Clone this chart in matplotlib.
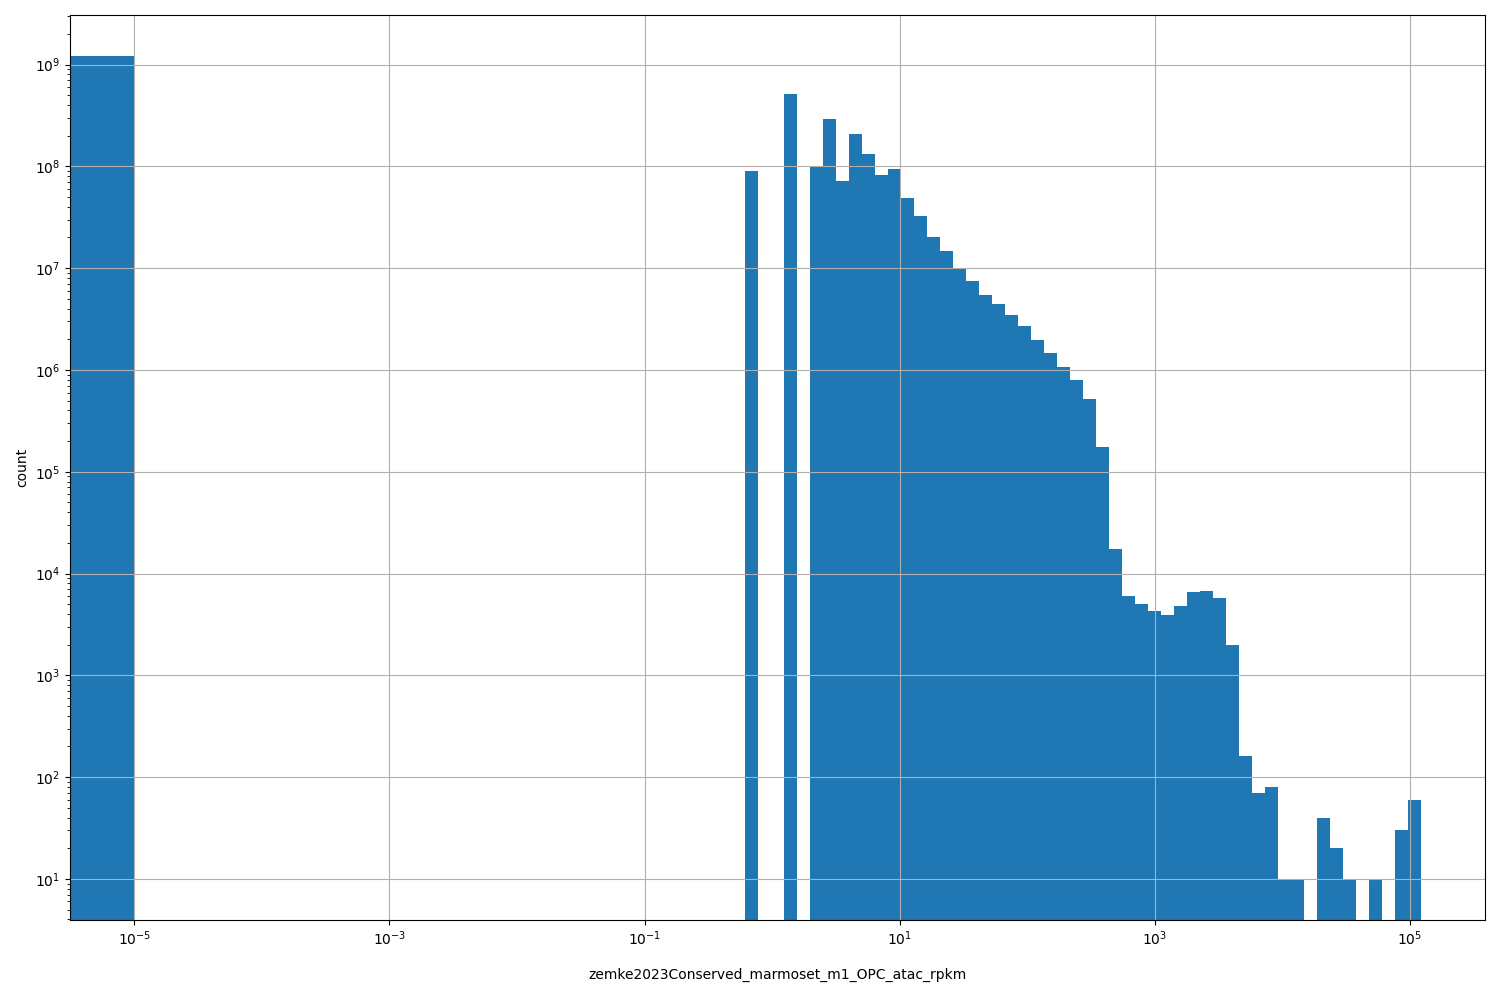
import numpy as np
import matplotlib
matplotlib.use("Agg")
import matplotlib.pyplot as plt
from matplotlib.ticker import NullLocator

# histogram of rpkm values, log-spaced bins plus one bin for zeros
col = "zemke2023Conserved_marmoset_m1_OPC_atac_rpkm"

log_lo = -5.0      # first log bin edge (10^-5)
log_hi = 5.084     # last bin edge (max value)
n_edges = 100

zero_count = 1.21e9          # bin [0, 1e-5]
n_empty_low = 47             # empty log bins between 1e-5 and ~0.61
counts_hi = [
    9.1e7, 0, 0, 5.1e8, 0, 9.8e7, 2.9e8, 7.1e7, 2.1e8, 1.31e8,
    8.3e7, 9.5e7, 4.84e7, 3.22e7, 2.0e7, 1.46e7, 1.0e7, 7.4e6, 5.5e6, 4.48e6,
    3.5e6, 2.72e6, 1.98e6, 1.48e6, 1.07e6, 8.0e5, 5.2e5, 1.75e5, 1.73e4, 5980,
    5000, 4270, 3900, 4780, 6560, 6700, 5700, 1980, 160, 70,
    80, 10, 10, 0, 40, 20, 10, 0, 10, 0,
    30, 60,
]
xticks = [1e-5, 1e-3, 1e-1, 1e1, 1e3, 1e5]

edges = np.concatenate([[0.0], np.logspace(log_lo, log_hi, n_edges)])
counts = np.array([zero_count] + [0] * n_empty_low + counts_hi, dtype=float)

fig, ax = plt.subplots(figsize=(15, 10), dpi=100)
ax.hist(edges[:-1], bins=edges, weights=counts, color="#1f77b4")
ax.set_xscale("log")
ax.set_yscale("log")
ax.set_xticks(xticks)
ax.xaxis.set_minor_locator(NullLocator())
ax.grid(True)
ax.set_xlabel(col, labelpad=14)
ax.set_ylabel("count")
fig.subplots_adjust(left=0.0467, right=0.99, top=0.985, bottom=0.08)
fig.savefig("out.png")
